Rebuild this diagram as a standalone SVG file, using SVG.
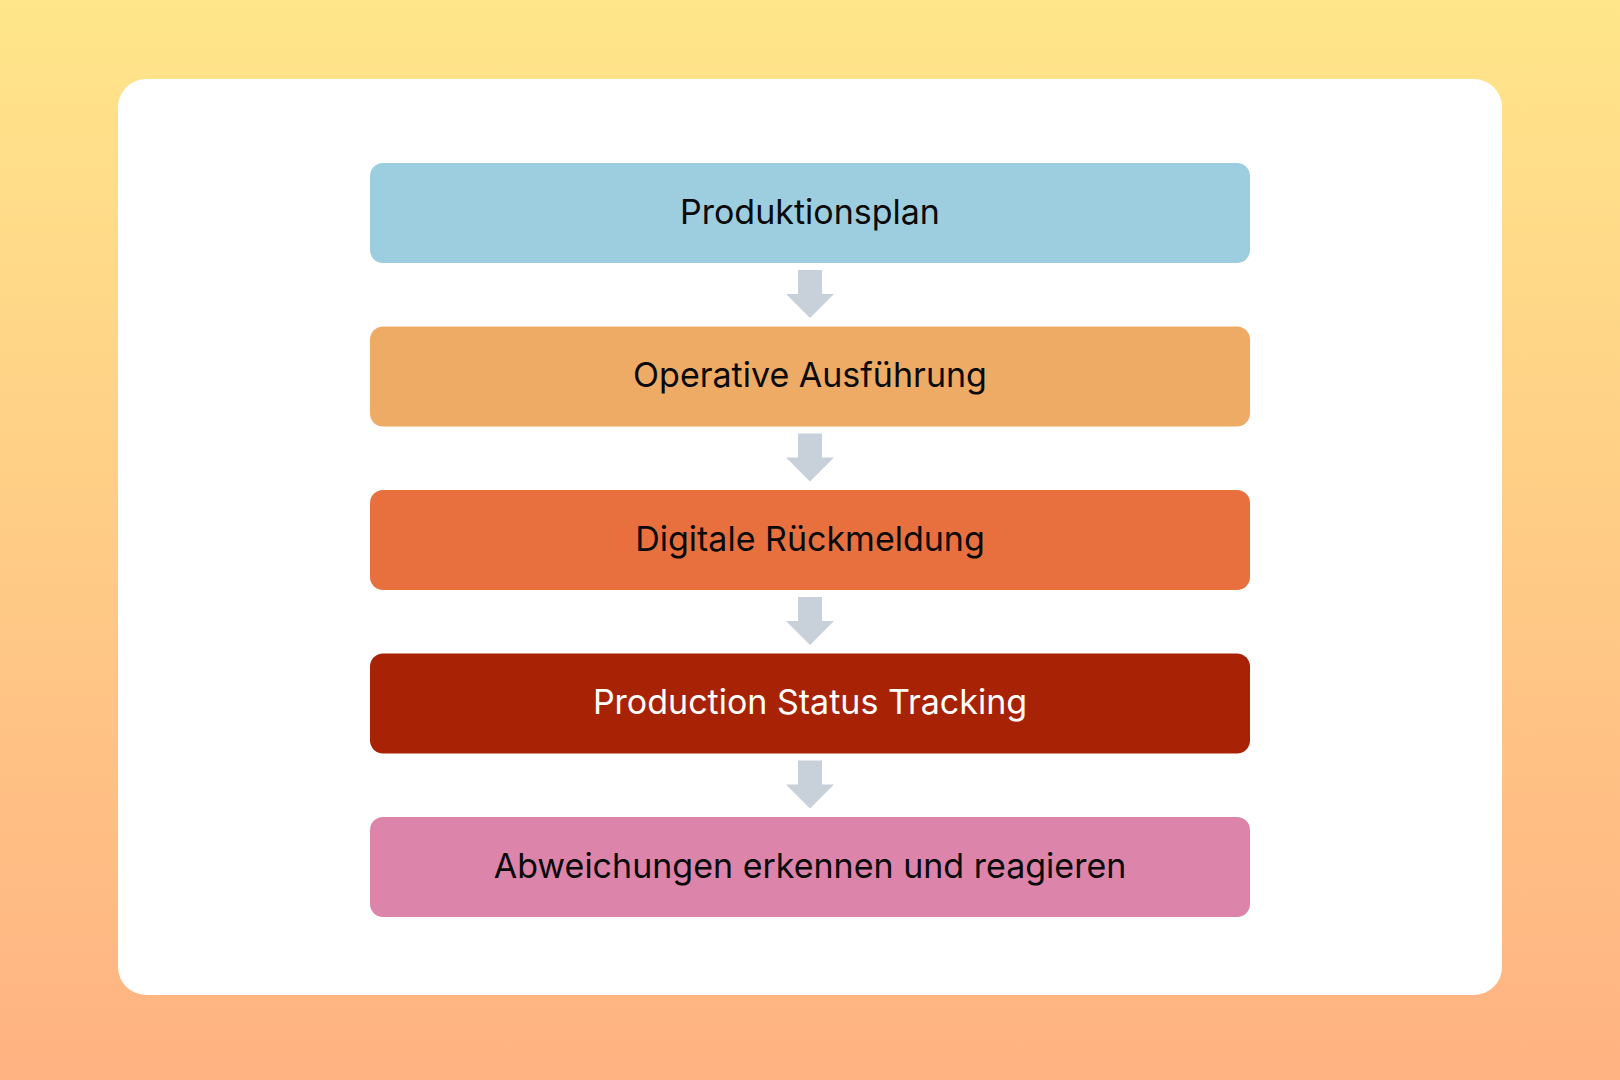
<svg xmlns="http://www.w3.org/2000/svg" width="1620" height="1080" viewBox="0 0 1620 1080">
<defs>
<linearGradient id="bg" x1="0" y1="0" x2="0" y2="1">
<stop offset="0" stop-color="#FFE68A"/>
<stop offset="1" stop-color="#FFB282"/>
</linearGradient>
</defs>
<style>
.box{stroke:none}
.lbl{font-family:Inter,"Noto Sans",sans-serif;font-size:34px;text-anchor:middle;dominant-baseline:central;fill:#0A0A0A}
.arrow{fill:#C8D0DA}
</style>
<rect x="0" y="0" width="1620" height="1080" fill="url(#bg)"/>
<rect x="118" y="79" width="1384" height="916" rx="28" fill="#FFFFFF"/>
<g id="connectors">
<path class="arrow" d="M798 270 H822 V294 H834 L810 318 L786 294 H798 Z"/>
<path class="arrow" d="M798 433.5 H822 V457.5 H834 L810 481.5 L786 457.5 H798 Z"/>
<path class="arrow" d="M798 597 H822 V621 H834 L810 645 L786 621 H798 Z"/>
<path class="arrow" d="M798 760.5 H822 V784.5 H834 L810 808.5 L786 784.5 H798 Z"/>
</g>
<g id="n1"><rect class="box" x="370" y="163" width="880" height="100" rx="13" fill="#9DCEDF"/><text class="lbl" x="810" y="211">Produktionsplan</text></g>
<g id="n2"><rect class="box" x="370" y="326.5" width="880" height="100" rx="13" fill="#EEAB66"/><text class="lbl" x="810" y="374.5">Operative Ausführung</text></g>
<g id="n3"><rect class="box" x="370" y="490" width="880" height="100" rx="13" fill="#E8703F"/><text class="lbl" x="810" y="538">Digitale Rückmeldung</text></g>
<g id="n4"><rect class="box" x="370" y="653.5" width="880" height="100" rx="13" fill="#A82306"/><text class="lbl" x="810" y="701.5" style="fill:#FFFFFF">Production Status Tracking</text></g>
<g id="n5"><rect class="box" x="370" y="817" width="880" height="100" rx="13" fill="#DC84AA"/><text class="lbl" x="810" y="865">Abweichungen erkennen und reagieren</text></g>
</svg>
